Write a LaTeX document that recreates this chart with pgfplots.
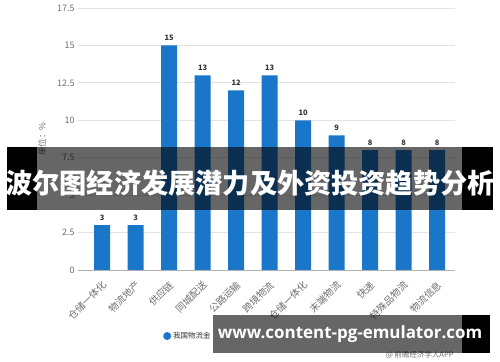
\documentclass[border=0pt]{standalone}
\usepackage{pgfplots}
\pgfplotsset{compat=1.18}
\usepackage{fontspec}
\setmainfont{Noto Sans CJK SC}
\newfontfamily\urlfont{Open Sans}
\definecolor{barblue}{RGB}{25,118,200}
\definecolor{lbl}{RGB}{51,51,51}
\definecolor{tickgray}{RGB}{110,110,110}
\begin{document}
\begin{tikzpicture}[x=1bp,y=1bp]
\path[use as bounding box] (0bp,0bp) rectangle (500bp,362bp);
\begin{axis}[at={(78bp,92bp)}, anchor=south west, scale only axis,
  width=377bp, height=262bp,
  ymin=0, ymax=17.5, ytick={0,2.5,5,7.5,10,12.5,15,17.5},
  xmin=-0.72, xmax=10.53,
  xtick={0,1,2,3,4,5,6,7,8,9,10},
  xticklabels={仓储一体化,物流地产,供应链,同城配送,公路运输,跨境物流,仓储一体化,末端物流,快递,特殊品物流,物流信息},
  axis lines*=left,
  y axis line style={draw=none},
  x axis line style={draw=gray!60},
  ytick style={draw=none},
  xtick style={draw=none},
  ymajorgrids, grid style={draw=gray!22, line width=0.8pt},
  /pgf/number format/assume math mode=true,
  yticklabel style={font=\fontsize{9}{10}\selectfont, text=tickgray},
  xticklabel style={xshift=-1bp, yshift=-10bp, rotate=45, anchor=north east, font=\fontsize{9.8}{10}\selectfont, text=tickgray, inner sep=0pt},
  ylabel={单位：\%},
  ylabel style={at={(axis description cs:-0.095,0.5)}, anchor=center, font=\fontsize{8.5}{9}\selectfont, text=tickgray},
  legend style={at={(0.2175,-0.252)}, anchor=west, draw=none, fill=none, font=\fontsize{7.5}{8}\selectfont, text=lbl},
  legend image code/.code={\fill[barblue] (0bp,0bp) circle (4bp);},
  nodes near coords,
  every node near coord/.append style={font=\bfseries\fontsize{7.5}{8}\selectfont, text=lbl, yshift=1bp},
]
\addplot[ybar, bar width=16bp, fill=barblue, draw=none] coordinates {
(0,3) (1,3) (2,15) (3,13) (4,12) (5,13) (6,10) (7,9) (8,8) (9,8) (10,8)};
\addlegendentry{我国物流金}
\end{axis}
\node[anchor=east, text=tickgray, font=\fontsize{7.5}{8}\selectfont] at (457bp,7bp) {@ 前瞻经济学人APP};
\fill[black] (7bp,152bp) rectangle (37bp,215bp);
\fill[black,opacity=0.6] (37bp,152bp) rectangle (462bp,215bp);
\fill[black] (462bp,152bp) rectangle (493bp,215bp);
\node[text=white, font=\bfseries\fontsize{27.3}{30}\selectfont, inner sep=0pt] at (250bp,179bp) {波尔图经济发展潜力及外资投资趋势分析};
\fill[black,opacity=0.6] (213bp,9bp) rectangle (462bp,47bp);
\fill[black] (462bp,9bp) rectangle (490bp,47bp);
\node[text=white, font=\urlfont\bfseries\fontsize{17}{20}\selectfont, inner sep=0pt] at (350bp,28bp) {www.content-pg-emulator.com};
\end{tikzpicture}
\end{document}
